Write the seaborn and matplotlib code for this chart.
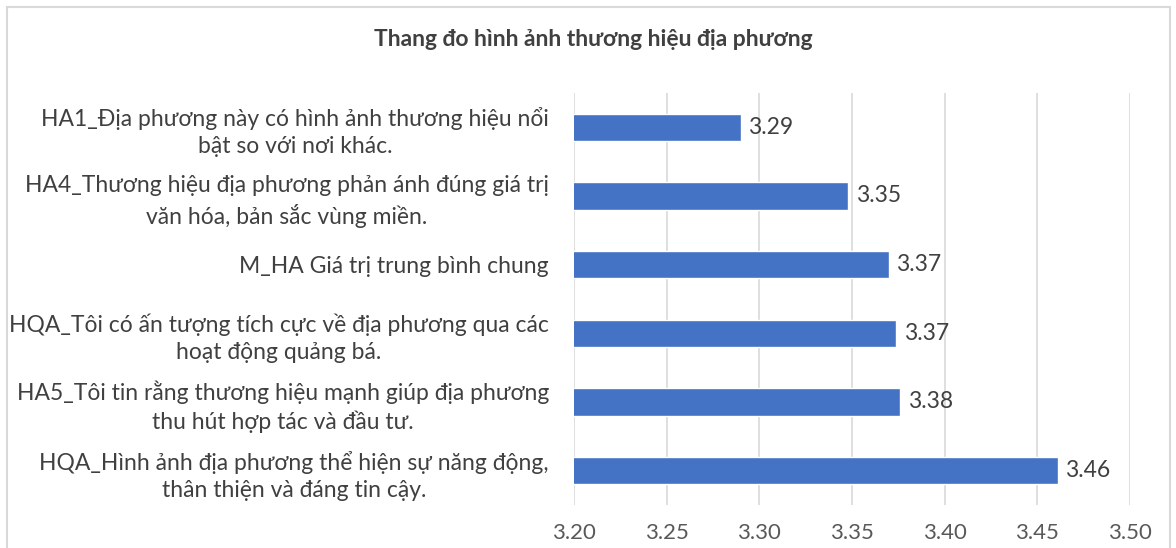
import matplotlib
matplotlib.use("Agg")
import matplotlib.pyplot as plt
import seaborn as sns
import pandas as pd
from matplotlib.patches import Rectangle

categories = [
    "HA1_Địa phương này có hình ảnh thương hiệu nổi\nbật so với nơi khác.",
    "HA4_Thương hiệu địa phương phản ánh đúng giá trị\nvăn hóa, bản sắc vùng miền.",
    "M_HA Giá trị trung bình chung",
    "HQA_Tôi có ấn tượng tích cực về địa phương qua các\nhoạt động quảng bá.",
    "HA5_Tôi tin rằng thương hiệu mạnh giúp địa phương\nthu hút hợp tác và đầu tư.",
    "HQA_Hình ảnh địa phương thể hiện sự năng động,\nthân thiện và đáng tin cậy.",
]
values = [3.29, 3.348, 3.370, 3.374, 3.376, 3.461]
value_labels = ["3.29", "3.35", "3.37", "3.37", "3.38", "3.46"]
x_ticks = [3.20, 3.25, 3.30, 3.35, 3.40, 3.45, 3.50]
title = "Thang đo hình ảnh thương hiệu địa phương"

sns.set_theme(style="white")
plt.rcParams["font.family"] = ["Lato", "DejaVu Sans"]

df = pd.DataFrame({"cat": categories, "val": values})

fig = plt.figure(figsize=(11.76, 5.48), dpi=100)
ax = fig.add_axes([574/1176, 1-505/548, (1130-574)/1176, (505-93)/548])

sns.barplot(data=df, y="cat", x="val", orient="h", color="#4472C4",
            width=0.4, ax=ax, saturation=1)

ax.set_xlim(3.20, 3.50)
ax.set_xticks(x_ticks)
ax.set_xticklabels([f"{t:.2f}" for t in x_ticks], fontsize=16, color="#595959")
ax.tick_params(axis="x", length=0, pad=13)
ax.tick_params(axis="y", length=0, pad=18)
for lbl in ax.get_yticklabels():
    lbl.set_fontsize(16.5)
    lbl.set_color("#404040")
    lbl.set_multialignment("center")
    lbl.set_linespacing(1.35)
ax.set_xlabel("")
ax.set_ylabel("")
ax.grid(axis="x", color="#d9d9d9", linewidth=1.2)
ax.set_axisbelow(True)
for s in ax.spines.values():
    s.set_visible(False)

for i, (v, t) in enumerate(zip(values, value_labels)):
    ax.text(v + 0.004, i, t, va="center", ha="left", fontsize=16.5, color="#404040")

fig.text(593/1176, 1-40/548, title, ha="center", va="center",
         fontsize=16.5, fontweight="bold", color="#404040")

fig.patches.append(Rectangle((7/1176, -0.05), (1170-7)/1176, 1.05-7/548,
                             transform=fig.transFigure, fill=False,
                             edgecolor="#d9d9d9", linewidth=1.5))

fig.savefig("out.png", dpi=100)
